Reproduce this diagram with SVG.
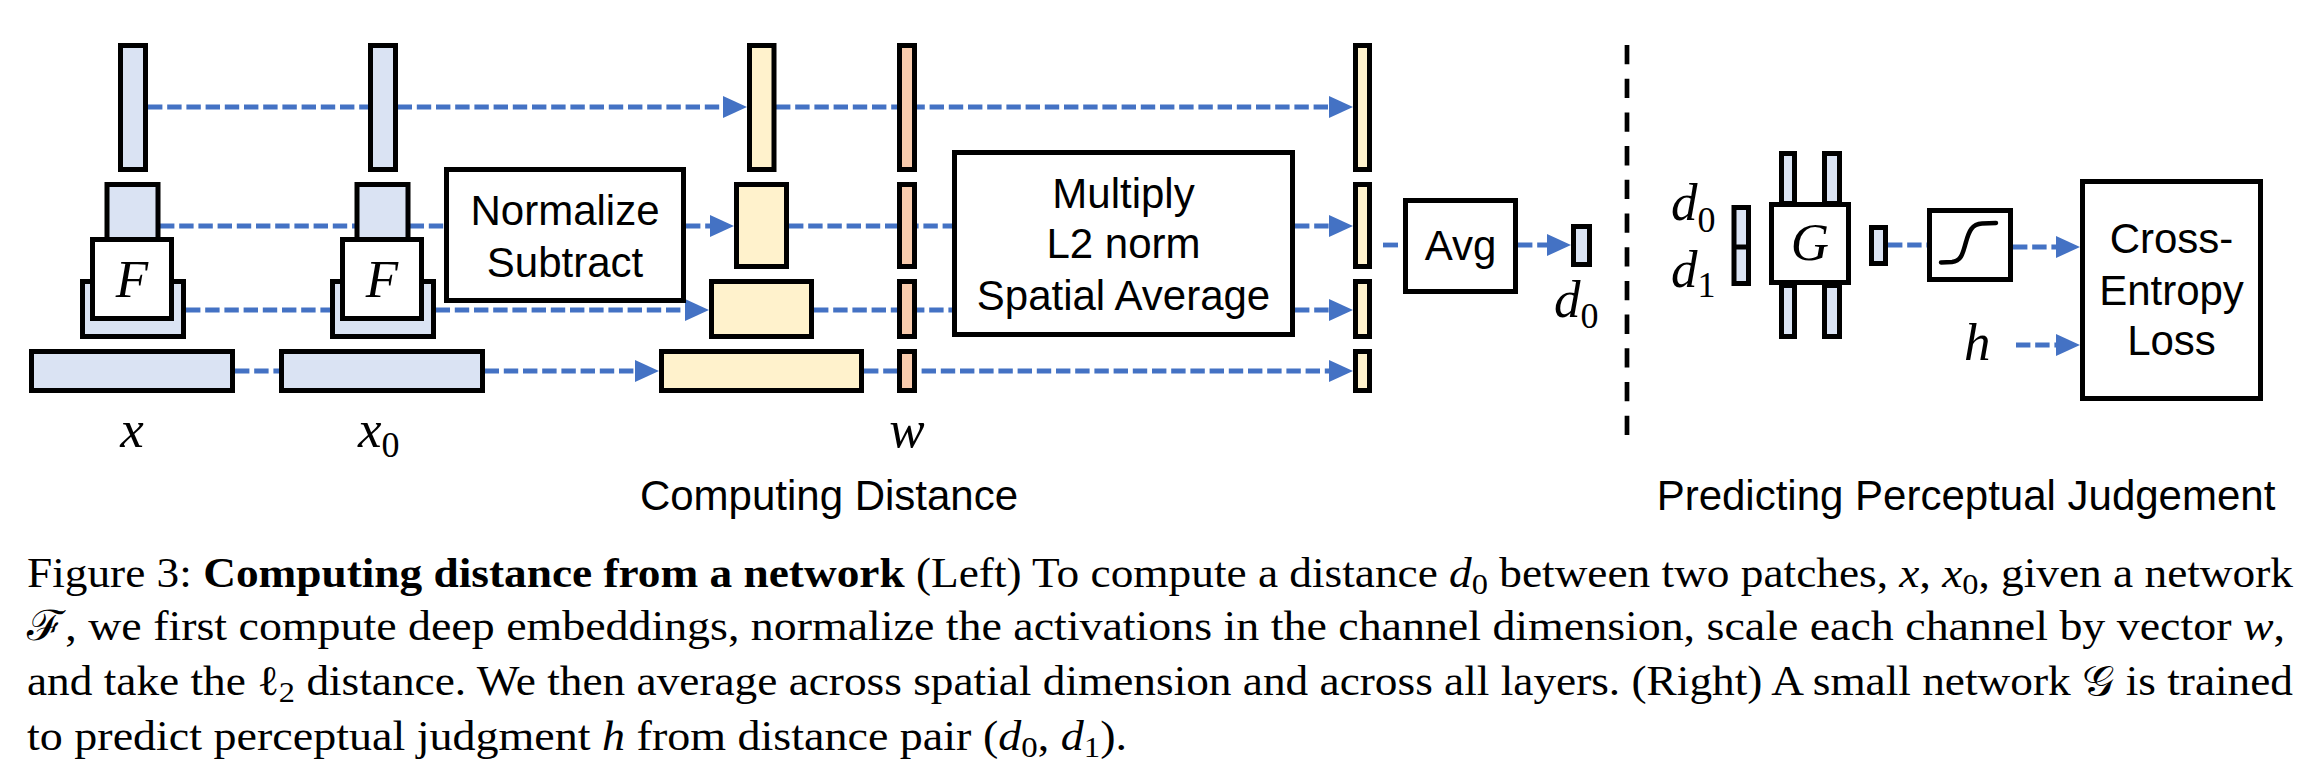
<svg xmlns="http://www.w3.org/2000/svg" width="2324" height="773" viewBox="0 0 2324 773">
<style>
.blk{stroke:#000;stroke-width:5}
.blue{fill:#DAE3F3}
.yel{fill:#FFF2CC}
.sal{fill:#F8CBAD}
.wht{fill:#FFFFFF}
.conn{stroke:#4472C4;stroke-width:4.8;stroke-dasharray:14.4 4.8;fill:none}
.arr{marker-end:url(#ah)}
.lbl{font-family:"Liberation Sans",Arial,sans-serif;font-size:42px;text-anchor:middle;fill:#000}
.math{font-family:"Liberation Serif","DejaVu Serif",serif;font-style:italic;font-size:53px;fill:#000}
.sub{font-style:normal;font-size:36px}
.cap{font-family:"Liberation Serif","Times New Roman","DejaVu Serif",serif;font-size:42px;fill:#000}
.ci{font-style:italic}
.cs{font-size:30px}
</style>
<defs>
<marker id="ah" markerUnits="userSpaceOnUse" markerWidth="26" markerHeight="24" refX="12" refY="11" orient="auto">
<path d="M0,0 L24,11 L0,22 Z" fill="#4472C4"/>
</marker>
<g id="colx">
<rect class="blk blue" x="120.5" y="45.5" width="25" height="124"/>
<rect class="blk blue" x="107" y="184.5" width="51" height="82"/>
<rect class="blk blue" x="82.5" y="281.5" width="101" height="55"/>
<rect class="blk wht" x="92.5" y="239.5" width="79" height="79"/>
<rect class="blk blue" x="31.5" y="351.5" width="201" height="39"/>
<text class="math" x="132" y="297" text-anchor="middle">F</text>
</g>
</defs>

<g id="connectors">
<line class="conn arr" x1="148" y1="107" x2="735" y2="107"/>
<line class="conn arr" x1="776" y1="107" x2="1341" y2="107"/>
<line class="conn" x1="160" y1="226" x2="444" y2="226"/>
<line class="conn arr" x1="686" y1="226" x2="722" y2="226"/>
<line class="conn" x1="789" y1="226" x2="952" y2="226"/>
<line class="conn arr" x1="1295" y1="226" x2="1341" y2="226"/>
<line class="conn arr" x1="186" y1="310" x2="697" y2="310"/>
<line class="conn" x1="814" y1="310" x2="952" y2="310"/>
<line class="conn arr" x1="1295" y1="310" x2="1341" y2="310"/>
<line class="conn arr" x1="235" y1="371" x2="647" y2="371"/>
<line class="conn arr" x1="864" y1="371" x2="1341" y2="371"/>
<line x1="1383" y1="245" x2="1398" y2="245" stroke="#4472C4" stroke-width="4.8"/>
<line class="conn arr" x1="1518" y1="245" x2="1559" y2="245"/>
<line class="conn" x1="1888" y1="245" x2="1927" y2="245"/>
<line class="conn arr" x1="2013" y1="247" x2="2068" y2="247"/>
<line class="conn arr" x1="2016" y1="345" x2="2068" y2="345"/>
</g>

<g id="node-x">
<use href="#colx"/>
<text class="math" x="132" y="447" text-anchor="middle">x</text>
</g>
<g id="node-x0">
<use href="#colx" transform="translate(250,0)"/>
<text class="math" x="358" y="447">x<tspan class="sub" dy="10">0</tspan></text>
</g>

<g id="node-normalize">
<rect class="blk wht" x="446.5" y="169.5" width="237" height="131"/>
<text class="lbl" x="565" y="225">Normalize</text>
<text class="lbl" x="565" y="277">Subtract</text>
</g>

<g id="node-diff">
<rect class="blk yel" x="749.5" y="45.5" width="24.5" height="124"/>
<rect class="blk yel" x="736.5" y="184.5" width="50" height="82"/>
<rect class="blk yel" x="711.5" y="281.5" width="100" height="55"/>
<rect class="blk yel" x="661.5" y="351.5" width="200" height="39"/>
</g>

<g id="node-w">
<rect class="blk sal" x="899.5" y="45.5" width="15" height="124"/>
<rect class="blk sal" x="899.5" y="184.5" width="15" height="82"/>
<rect class="blk sal" x="899.5" y="281.5" width="15" height="55"/>
<rect class="blk sal" x="899.5" y="351.5" width="15" height="39"/>
<text class="math" x="907" y="447" text-anchor="middle">w</text>
</g>

<g id="node-multiply">
<rect class="blk wht" x="954.5" y="152.5" width="338" height="182"/>
<text class="lbl" x="1123.5" y="208">Multiply</text>
<text class="lbl" x="1123.5" y="258">L2 norm</text>
<text class="lbl" x="1123.5" y="310">Spatial Average</text>
</g>

<g id="node-layers">
<rect class="blk yel" x="1355.5" y="45.5" width="14" height="124"/>
<rect class="blk yel" x="1355.5" y="184.5" width="14" height="82"/>
<rect class="blk yel" x="1355.5" y="281.5" width="14" height="55"/>
<rect class="blk yel" x="1355.5" y="351.5" width="14" height="39"/>
</g>

<g id="node-avg">
<rect class="blk wht" x="1405.5" y="200.5" width="110" height="91"/>
<text class="lbl" x="1460.5" y="260">Avg</text>
</g>

<g id="node-d0">
<rect class="blk blue" x="1573.5" y="226.5" width="16" height="38"/>
<text class="math" x="1554" y="317">d<tspan class="sub" dy="11">0</tspan></text>
</g>

<g id="divider">
<line x1="1627" y1="45" x2="1627" y2="435" stroke="#000" stroke-width="4.7" stroke-dasharray="19.3 14.4"/>
</g>

<g id="node-input">
<rect class="blk blue" x="1734" y="207.5" width="14.5" height="76"/>
<line x1="1734" y1="247" x2="1748.5" y2="247" stroke="#000" stroke-width="5"/>
<text class="math" x="1671" y="220">d<tspan class="sub" dy="12">0</tspan></text>
<text class="math" x="1671" y="287">d<tspan class="sub" dy="10">1</tspan></text>
</g>

<g id="node-G">
<rect class="blk blue" x="1781.5" y="153.5" width="13" height="50"/>
<rect class="blk blue" x="1824.5" y="153.5" width="15" height="50"/>
<rect class="blk blue" x="1781.5" y="285.5" width="13" height="51"/>
<rect class="blk blue" x="1824.5" y="285.5" width="15" height="51"/>
<rect class="blk wht" x="1771.5" y="204.5" width="77" height="78"/>
<text class="math" x="1810" y="260" text-anchor="middle">G</text>
</g>

<g id="node-out">
<rect class="blk blue" x="1871.5" y="227.5" width="14" height="36"/>
</g>

<g id="node-sigmoid">
<rect class="blk wht" x="1929.5" y="210.5" width="81" height="69"/>
<path d="M1941,262.5 L1952,262 C1962,261 1963,252 1966,242 C1969,231 1972,224 1982,223.5 L1996,223" fill="none" stroke="#000" stroke-width="4.5" stroke-linecap="round"/>
</g>

<g id="node-h">
<text class="math" x="1964" y="360">h</text>
</g>

<g id="node-loss">
<rect class="blk wht" x="2082.5" y="181.5" width="178" height="217"/>
<text class="lbl" x="2171.5" y="253">Cross-</text>
<text class="lbl" x="2171.5" y="305">Entropy</text>
<text class="lbl" x="2171.5" y="355">Loss</text>
</g>

<g id="titles">
<text class="lbl" x="829" y="510">Computing Distance</text>
<text class="lbl" x="1966" y="510">Predicting Perceptual Judgement</text>
</g>

<g id="caption">
<text class="cap" x="27" y="587" textLength="2266" lengthAdjust="spacingAndGlyphs">Figure 3: <tspan font-weight="bold">Computing distance from a network</tspan> (Left) To compute a distance <tspan class="ci">d</tspan><tspan class="cs" dy="7">0</tspan><tspan dy="-7"> between two patches, </tspan><tspan class="ci">x</tspan>, <tspan class="ci">x</tspan><tspan class="cs" dy="7">0</tspan><tspan dy="-7">, given a network</tspan></text>
<text class="cap" x="27" y="640" textLength="2258" lengthAdjust="spacingAndGlyphs">ℱ, we first compute deep embeddings, normalize the activations in the channel dimension, scale each channel by vector <tspan class="ci">w</tspan>,</text>
<text class="cap" x="27" y="695" textLength="2266" lengthAdjust="spacingAndGlyphs">and take the ℓ<tspan class="cs" dy="7">2</tspan><tspan dy="-7"> distance. We then average across spatial dimension and across all layers. (Right) A small network </tspan>𝒢 is trained</text>
<text class="cap" x="27" y="750" textLength="1100" lengthAdjust="spacingAndGlyphs">to predict perceptual judgment <tspan class="ci">h</tspan> from distance pair (<tspan class="ci">d</tspan><tspan class="cs" dy="7">0</tspan><tspan dy="-7">, </tspan><tspan class="ci">d</tspan><tspan class="cs" dy="7">1</tspan><tspan dy="-7">).</tspan></text>
</g>
</svg>
